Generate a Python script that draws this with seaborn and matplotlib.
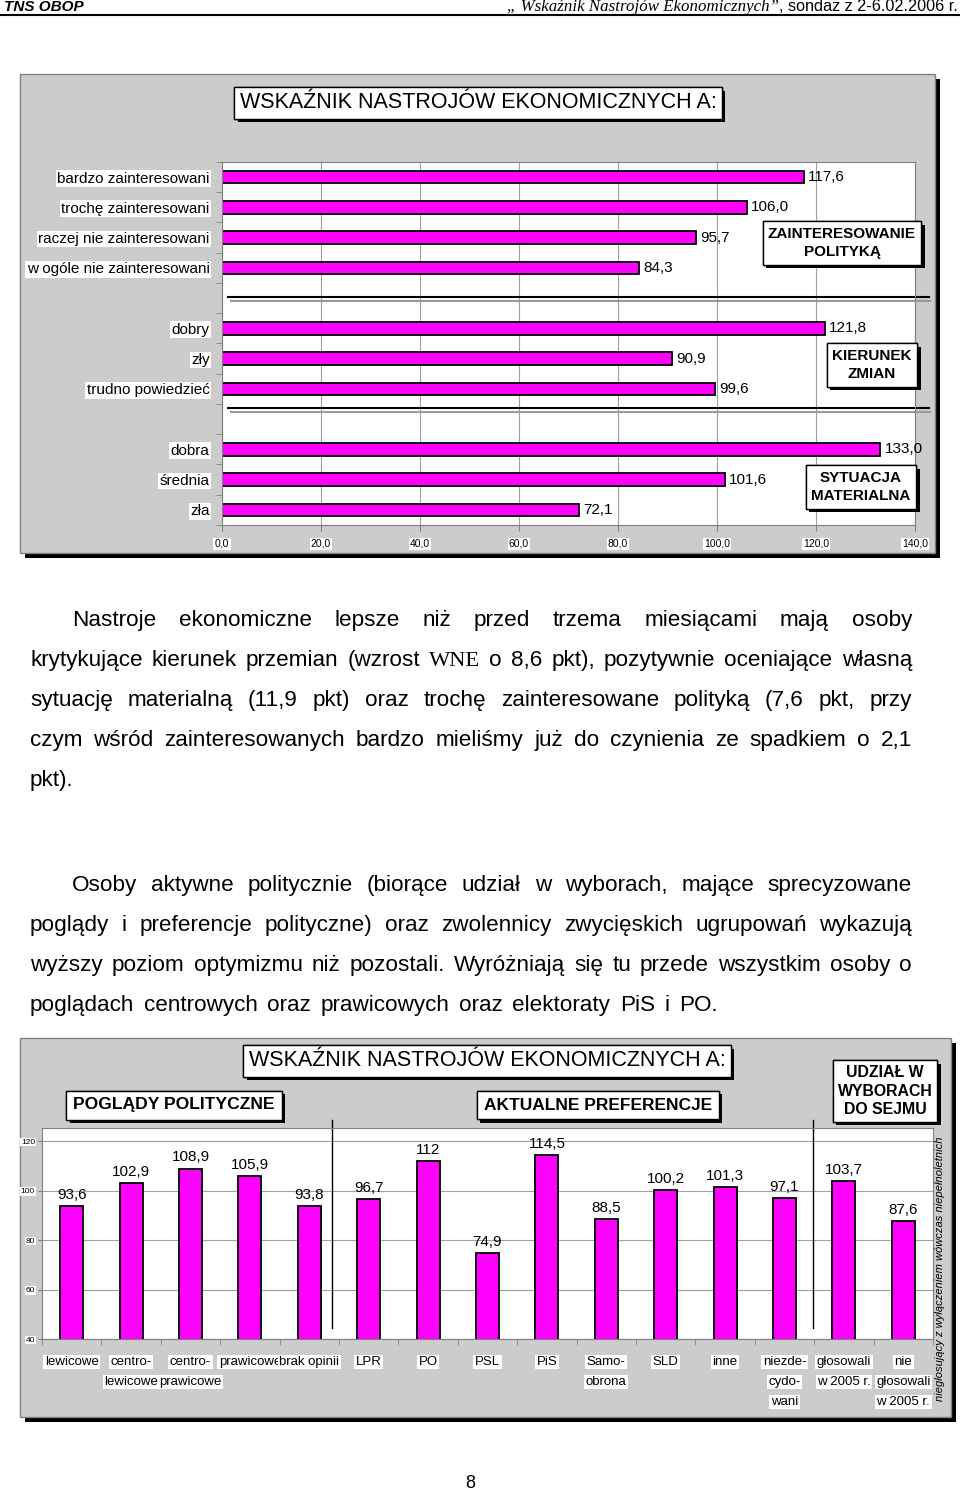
import numpy as np
import pandas as pd
import seaborn as sns
import matplotlib.pyplot as plt
import matplotlib.patheffects as pe
import matplotlib.transforms as mtransforms
from matplotlib.patches import Rectangle
from matplotlib.lines import Line2D

# top chart: index by group
interest_labels = ["bardzo zainteresowani", "trochę zainteresowani",
                   "raczej nie zainteresowani", "w ogóle nie zainteresowani"]
interest_values = [117.6, 106.0, 95.7, 84.3]
direction_labels = ["dobry", "zły", "trudno powiedzieć"]
direction_values = [121.8, 90.9, 99.6]
material_labels = ["dobra", "średnia", "zła"]
material_values = [133.0, 101.6, 72.1]
top_ticks = [0, 20, 40, 60, 80, 100, 120, 140]

# bottom chart
bottom_labels = ["lewicowe", "centro-\nlewicowe", "centro-\nprawicowe", "prawicowe",
                 "brak opinii", "LPR", "PO", "PSL", "PiS", "Samo-\nobrona", "SLD",
                 "inne", "niezde-\ncydo-\nwani", "głosowali\nw 2005 r.",
                 "nie\ngłosowali\nw 2005 r."]
bottom_values = [93.6, 102.9, 108.9, 105.9, 93.8, 96.7, 112, 74.9, 114.5, 88.5,
                 100.2, 101.3, 97.1, 103.7, 87.6]
bottom_ticks = [40, 60, 80, 100, 120]

para1 = ["Nastroje ekonomiczne lepsze niż przed trzema miesiącami mają osoby",
         "krytykujące kierunek przemian (wzrost WNE o 8,6 pkt), pozytywnie oceniające własną",
         "sytuację materialną (11,9 pkt) oraz trochę zainteresowane polityką (7,6 pkt, przy",
         "czym wśród zainteresowanych bardzo mieliśmy już do czynienia ze spadkiem o 2,1",
         "pkt)."]
para2 = ["Osoby aktywne politycznie (biorące udział w wyborach, mające sprecyzowane",
         "poglądy i preferencje polityczne) oraz zwolennicy zwycięskich ugrupowań wykazują",
         "wyższy poziom optymizmu niż pozostali. Wyróżniają się tu przede wszystkim osoby o",
         "poglądach centrowych oraz prawicowych oraz elektoraty PiS i PO."]

W, H = 960, 1494
MAGENTA = "#FF00FF"
PANEL = "#CCCCCC"
BODY_SIZE = 16.2

plt.rcParams['font.family'] = ['Liberation Sans', 'DejaVu Sans']
fig = plt.figure(figsize=(9.6, 14.94), dpi=100)
renderer = fig.canvas.get_renderer()


def fx(x):
    return x / W


def fy(y):
    return 1 - y / H


def box(x0, y0, x1, y1):
    return [x0 / W, 1 - y1 / H, (x1 - x0) / W, (y1 - y0) / H]


def panel(x0, y0, x1, y1):
    fig.patches.append(Rectangle((fx(x0 + 5), fy(y1 + 5)), (x1 - x0) / W, (y1 - y0) / H,
                                 transform=fig.transFigure, facecolor='black',
                                 edgecolor='none', zorder=-3))
    fig.patches.append(Rectangle((fx(x0), fy(y1)), (x1 - x0) / W, (y1 - y0) / H,
                                 transform=fig.transFigure, facecolor=PANEL,
                                 edgecolor='#808080', lw=1, zorder=-2))


def label_box(x, y, s, size, bold=True, pad=0.35, ls=1.5):
    t = fig.text(fx(x), fy(y), s, fontsize=size, ha='center', va='center',
                 fontweight='bold' if bold else 'normal', linespacing=ls,
                 bbox=dict(boxstyle=f'square,pad={pad}', facecolor='white',
                           edgecolor='black', lw=1))
    t.get_bbox_patch().set_path_effects([
        pe.withSimplePatchShadow(offset=(2.5, -2.5), shadow_rgbFace='black', alpha=1.0),
        pe.Normal()])
    return t


# header
fig.text(fx(4), fy(11), "TNS OBOP", fontsize=11, fontweight='bold', style='italic',
         va='baseline')
t_norm = fig.text(fx(958), fy(11), ", sondaż z 2-6.02.2006 r.", fontsize=11.7,
                  ha='right', va='baseline')
w_norm = t_norm.get_window_extent(renderer).width
fig.text(fx(958 - w_norm), fy(11), "„ Wskaźnik Nastrojów Ekonomicznych”", fontsize=12.2,
         style='italic', family=['Liberation Serif'], ha='right', va='baseline')
fig.add_artist(Line2D([0, 1], [fy(15), fy(15)], color='black', lw=1.5,
                      transform=fig.transFigure))

# ---------- top chart ----------
panel(20, 74, 935, 553)
label_box(478, 103, "WSKAŹNIK NASTROJÓW EKONOMICZNYCH A:", 15.5, bold=False, pad=0.25)

ax1 = fig.add_axes(box(222, 162, 915, 525))
order = interest_labels + [" "] + direction_labels + ["  "] + material_labels
df_top = pd.DataFrame({"group": interest_labels + direction_labels + material_labels,
                       "value": interest_values + direction_values + material_values})
sns.barplot(data=df_top, x="value", y="group", order=order, orient="h",
            color=MAGENTA, saturation=1, edgecolor="black", linewidth=1.3,
            width=0.42, ax=ax1)
for c in ax1.containers:
    ax1.bar_label(c, labels=[f"{b.get_width():.1f}".replace('.', ',') for b in c],
                  padding=3, fontsize=11)
ax1.set_xlim(0, 140)
ax1.set_ylim(11.5, -0.5)
ax1.set_xlabel("")
ax1.set_ylabel("")
ax1.set_xticks(top_ticks)
ax1.set_xticklabels([f"{t:.1f}".replace('.', ',') for t in top_ticks], fontsize=7.5)
ax1.xaxis.grid(True, color='#A0A0A0', lw=0.8)
ax1.set_axisbelow(True)
for s in ax1.spines.values():
    s.set_color('#808080')
ax1.set_yticks(np.arange(-0.5, 12, 1), minor=True)
ax1.tick_params(axis='y', which='major', length=0, pad=9, labelsize=11)
ax1.tick_params(axis='y', which='minor', length=4, color='#808080')
ax1.tick_params(axis='x', length=4, color='#808080', pad=6)
for lab in ax1.get_yticklabels() + ax1.get_xticklabels():
    if lab.get_text().strip():
        lab.set_bbox(dict(facecolor='white', edgecolor='none', pad=1))

trans1 = mtransforms.blended_transform_factory(ax1.transAxes, ax1.transData)
for ypos in [3.96, 7.63]:
    ax1.plot([0.009, 1.02], [ypos, ypos], color='black', lw=1.5,
             transform=trans1, clip_on=False)
    ax1.plot([0.013, 1.022], [ypos + 0.13, ypos + 0.13], color='#999999', lw=1.5,
             transform=trans1, clip_on=False)

label_box(842, 243, "ZAINTERESOWANIE\nPOLITYKĄ", 11, pad=0.35, ls=1.4)
label_box(872, 365, "KIERUNEK\nZMIAN", 11, pad=0.35, ls=1.4)
label_box(861, 487, "SYTUACJA\nMATERIALNA", 11, pad=0.35, ls=1.4)


# ---------- text ----------
def justified(line, x0, x1, y, last=False):
    words = line.split(' ')
    arts = []
    for w in words:
        fam = ['Liberation Serif'] if w == 'WNE' else ['Liberation Sans', 'DejaVu Sans']
        arts.append(fig.text(fx(x0), fy(y), w, fontsize=BODY_SIZE, family=fam,
                             ha='left', va='baseline'))
    widths = [t.get_window_extent(renderer).width for t in arts]
    if last or len(words) == 1:
        gap = 9.5
    else:
        gap = (x1 - x0 - sum(widths)) / (len(words) - 1)
    x = x0
    for t, wd in zip(arts, widths):
        t.set_x(fx(x))
        x += wd + gap


for i, line in enumerate(para1):
    justified(line, 72 if i == 0 else 30, 912, 626 + 40 * i, last=(i == len(para1) - 1))
for i, line in enumerate(para2):
    justified(line, 72 if i == 0 else 30, 912, 891 + 40 * i, last=(i == len(para2) - 1))

# ---------- bottom chart ----------
panel(20, 1038, 951, 1417)
label_box(487, 1061, "WSKAŹNIK NASTROJÓW EKONOMICZNYCH A:", 15.5, bold=False, pad=0.25)
label_box(174, 1105, "POGLĄDY POLITYCZNE", 12.6, pad=0.4)
label_box(598, 1105, "AKTUALNE PREFERENCJE", 12.5, pad=0.4)
label_box(885, 1091, "UDZIAŁ W\nWYBORACH\nDO SEJMU", 11.4, pad=0.3, ls=1.3)

ax2 = fig.add_axes(box(42, 1128, 933, 1339))
df_bottom = pd.DataFrame({"group": bottom_labels, "value": bottom_values})
sns.barplot(data=df_bottom, x="group", y="value", color=MAGENTA, saturation=1,
            edgecolor="black", linewidth=1.3, width=0.39, ax=ax2)
for c in ax2.containers:
    ax2.bar_label(c, labels=[f"{b.get_height():g}".replace('.', ',') for b in c],
                  padding=3, fontsize=11)
ax2.set_ylim(40, 125.3)
ax2.set_xlim(-0.5, len(bottom_labels) - 0.5)
ax2.set_xlabel("")
ax2.set_ylabel("")
ax2.set_yticks(bottom_ticks)
ax2.set_yticklabels([str(t) for t in bottom_ticks], fontsize=6)
ax2.yaxis.grid(True, color='#A0A0A0', lw=0.8)
ax2.set_axisbelow(True)
for s in ax2.spines.values():
    s.set_color('#808080')
ax2.set_xticks(np.arange(-0.5, len(bottom_labels), 1), minor=True)
ax2.tick_params(axis='x', which='major', length=0, labelbottom=False)
ax2.tick_params(axis='x', which='minor', length=4, color='#808080')
ax2.tick_params(axis='y', length=3, color='#808080', pad=2)
for lab in ax2.get_yticklabels():
    lab.set_bbox(dict(facecolor='white', edgecolor='none', pad=0.5))

trans2 = mtransforms.blended_transform_factory(ax2.transData, fig.transFigure)
for i, lab in enumerate(bottom_labels):
    for j, part in enumerate(lab.split('\n')):
        ax2.text(i, fy(1362 + 20 * j), part, transform=trans2, ha='center',
                 va='center', fontsize=9.5, clip_on=False,
                 bbox=dict(facecolor='white', edgecolor='none', pad=1))

for xpos in [4.38, 12.48]:
    ax2.plot([xpos, xpos], [44.4, 128.5], color='black', lw=1, clip_on=False)

fig.text(fx(940), fy(1269), "niegłosujący z wyłączeniem wówczas niepełnoletnich",
         rotation=90, style='italic', fontsize=8, ha='center', va='center')

fig.text(fx(470), fy(1484), "8", fontsize=13, ha='center', va='center')

fig.savefig("out.png", dpi=100)
